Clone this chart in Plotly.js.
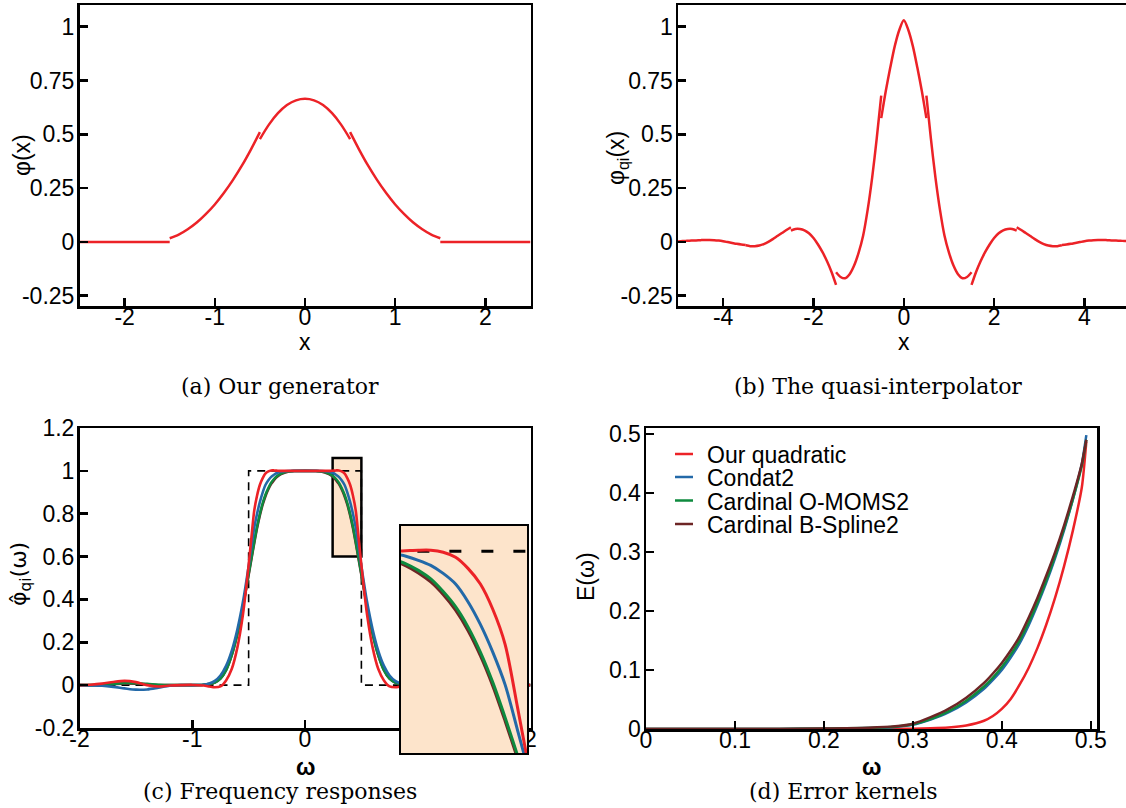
<!DOCTYPE html>
<html><head><meta charset="utf-8">
<script src="https://cdn.plot.ly/plotly-3.0.1.min.js"></script>
<style>html,body{margin:0;padding:0;background:#fff}#chart{width:1126px;height:808px}</style>
</head><body><div id="chart"></div>
<script>
// ================= DATA =================
// (a) generator phi(x) - piecewise segments
const genX1 = [-2.5, -1.5];
const genY1 = [0, 0];
const genX2 = [-1.5,-1.4,-1.3,-1.2,-1.1,-1.0,-0.9,-0.8,-0.7,-0.6,-0.5];
const genY2 = [0.017,0.034,0.059,0.090,0.129,0.174,0.227,0.287,0.354,0.429,0.510];
const genX3 = [-0.5,-0.4,-0.3,-0.2,-0.1,0,0.1,0.2,0.3,0.4,0.5];
const genY3 = [0.478,0.545,0.598,0.636,0.658,0.665,0.658,0.636,0.598,0.545,0.478];
const genX4 = [0.5,0.6,0.7,0.8,0.9,1.0,1.1,1.2,1.3,1.4,1.5];
const genY4 = [0.510,0.429,0.354,0.287,0.227,0.174,0.129,0.090,0.059,0.034,0.017];
const genX5 = [1.5, 2.5];
const genY5 = [0, 0];

// (b) quasi-interpolator phi_qi(x) - piecewise segments
const qiX1 = [-5,-4.9,-4.8,-4.7,-4.6,-4.5,-4.4,-4.3,-4.2,-4.1,-4.0,-3.9,-3.8,-3.7,-3.6,-3.5];
const qiY1 = [0.002,0.004,0.005,0.006,0.007,0.008,0.009,0.009,0.008,0.006,0.003,-0.001,-0.005,-0.009,-0.012,-0.014];
const qiX2 = [-3.5,-3.4,-3.3,-3.2,-3.1,-3.0,-2.9,-2.8,-2.7,-2.6,-2.5];
const qiY2 = [-0.016,-0.020,-0.020,-0.017,-0.010,0.000,0.013,0.027,0.041,0.055,0.068];
const qiX3 = [-2.5,-2.4,-2.3,-2.2,-2.1,-2.0,-1.9,-1.8,-1.7,-1.6,-1.5];
const qiY3 = [0.052,0.060,0.060,0.054,0.040,0.018,-0.012,-0.048,-0.090,-0.140,-0.200];
const qiX4 = [-1.5,-1.4,-1.3,-1.2,-1.1,-1.0,-0.9,-0.8,-0.7,-0.6,-0.5];
const qiY4 = [-0.141,-0.163,-0.169,-0.150,-0.110,-0.050,0.030,0.150,0.300,0.480,0.680];
const qiX5 = [-0.5,-0.4,-0.3,-0.2,-0.1,0,0.1,0.2,0.3,0.4,0.5];
const qiY5 = [0.575,0.700,0.810,0.910,0.985,1.030,0.985,0.910,0.810,0.700,0.575];
const qiX6 = [0.5,0.6,0.7,0.8,0.9,1.0,1.1,1.2,1.3,1.4,1.5];
const qiY6 = [0.680,0.480,0.300,0.150,0.030,-0.050,-0.110,-0.150,-0.169,-0.163,-0.141];
const qiX7 = [1.5,1.6,1.7,1.8,1.9,2.0,2.1,2.2,2.3,2.4,2.5];
const qiY7 = [-0.200,-0.140,-0.090,-0.048,-0.012,0.018,0.040,0.054,0.060,0.060,0.052];
const qiX8 = [2.5,2.6,2.7,2.8,2.9,3.0,3.1,3.2,3.3,3.4,3.5];
const qiY8 = [0.068,0.055,0.041,0.027,0.013,0.000,-0.010,-0.017,-0.020,-0.020,-0.016];
const qiX9 = [3.5,3.6,3.7,3.8,3.9,4.0,4.1,4.2,4.3,4.4,4.5,4.6,4.7,4.8,4.9,5.0];
const qiY9 = [-0.014,-0.012,-0.009,-0.005,-0.001,0.003,0.006,0.008,0.009,0.009,0.008,0.007,0.006,0.005,0.004,0.002];

// (c) frequency responses
const omegaC = [-2.0,-1.9,-1.8,-1.7,-1.6,-1.5,-1.4,-1.3,-1.2,-1.1,-1.0,-0.9,-0.85,-0.8,-0.75,-0.7,-0.65,-0.6,-0.55,-0.525,-0.5,-0.475,-0.45,-0.425,-0.4,-0.375,-0.35,-0.325,-0.3,-0.275,-0.25,-0.225,-0.2,-0.15,-0.1,
  0,
  0.1,0.15,0.2,0.225,0.25,0.275,0.3,0.325,0.35,0.375,0.4,0.425,0.45,0.475,0.5,0.525,0.55,0.6,0.65,0.7,0.75,0.8,0.85,0.9,1.0,1.1,1.2,1.3,1.4,1.5,1.6,1.7,1.8,1.9,2.0];
const freqOurs = [0.0,0.002,0.007,0.015,0.02,0.014,0.0,-0.006,-0.002,0.0,0.001,-0.002,-0.006,-0.01,-0.006,0.022,0.075,0.175,0.33,0.44,0.56,0.69,0.815,0.885,0.935,0.966,0.988,0.998,1.002,1.002,1.001,1.0,1.0,1.0,1.0,
  1.0,
  1.0,1.0,1.0,1.0,1.001,1.002,1.002,0.998,0.988,0.966,0.935,0.885,0.815,0.69,0.56,0.44,0.33,0.175,0.075,0.022,-0.006,-0.01,-0.006,-0.002,0.001,0.0,-0.002,-0.006,0.0,0.014,0.02,0.015,0.007,0.002,0.0];
const freqCondat = [0.0,-0.001,-0.003,-0.008,-0.015,-0.021,-0.02,-0.012,-0.003,0.0,0.0,0.002,0.008,0.02,0.045,0.09,0.16,0.26,0.39,0.47,0.555,0.645,0.735,0.8,0.855,0.9,0.935,0.956,0.972,0.982,0.99,0.995,0.997,0.999,1.0,
  1.0,
  1.0,0.999,0.997,0.995,0.99,0.982,0.972,0.956,0.935,0.9,0.855,0.8,0.735,0.645,0.555,0.47,0.39,0.26,0.16,0.09,0.045,0.02,0.008,0.002,0.0,0.0,-0.003,-0.012,-0.02,-0.021,-0.015,-0.008,-0.003,-0.001,0.0];
const freqOmoms = [0.0,0.0,0.002,0.006,0.01,0.009,0.006,0.002,0.0,0.0,0.0,0.002,0.005,0.012,0.03,0.07,0.14,0.24,0.37,0.445,0.52,0.595,0.67,0.74,0.8,0.85,0.89,0.92,0.945,0.962,0.975,0.984,0.99,0.997,0.999,
  1.0,
  0.999,0.997,0.99,0.984,0.975,0.962,0.945,0.92,0.89,0.85,0.8,0.74,0.67,0.595,0.52,0.445,0.37,0.24,0.14,0.07,0.03,0.012,0.005,0.002,0.0,0.0,0.0,0.002,0.006,0.009,0.01,0.006,0.002,0.0,0.0];
const freqBspline = [0.0,0.0,0.002,0.005,0.008,0.007,0.004,0.001,0.0,0.0,0.0,0.002,0.005,0.012,0.03,0.07,0.139,0.238,0.366,0.44,0.514,0.589,0.663,0.733,0.793,0.843,0.883,0.914,0.939,0.957,0.971,0.981,0.988,0.996,0.999,
  1.0,
  0.999,0.996,0.988,0.981,0.971,0.957,0.939,0.914,0.883,0.843,0.793,0.733,0.663,0.589,0.514,0.44,0.366,0.238,0.139,0.07,0.03,0.012,0.005,0.002,0.0,0.0,0.0,0.001,0.004,0.007,0.008,0.005,0.002,0.0,0.0];
const idealX = [-2, -0.5, -0.5, 0.5, 0.5, 2];
const idealY = [0, 0, 1, 1, 0, 0];

// (d) error kernels
const omegaD = [0,0.05,0.1,0.15,0.2,0.25,0.28,0.3,0.32,0.34,0.36,0.38,0.39,0.4,0.41,0.42,0.43,0.44,0.45,0.46,0.47,0.48,0.49,0.495];
const errOurs    = [0,0,0,0,0,0.0001,0.0003,0.0006,0.0012,0.0025,0.006,0.014,0.022,0.034,0.051,0.075,0.103,0.137,0.177,0.223,0.276,0.337,0.41,0.487];
const errCondat  = [0,0,0,0.0001,0.0005,0.0015,0.0035,0.007,0.016,0.028,0.045,0.068,0.083,0.1,0.121,0.145,0.175,0.21,0.248,0.29,0.337,0.39,0.45,0.498];
const errOmoms   = [0,0,0,0.0001,0.0006,0.0018,0.004,0.008,0.017,0.03,0.048,0.072,0.087,0.105,0.126,0.15,0.18,0.214,0.252,0.294,0.34,0.39,0.447,0.49];
const errBspline = [0,0,0,0.0001,0.0007,0.002,0.0045,0.009,0.02,0.034,0.053,0.078,0.094,0.112,0.133,0.157,0.188,0.222,0.26,0.30,0.345,0.395,0.45,0.49];

const seriesNames = ['Our quadratic', 'Condat2', 'Cardinal O-MOMS2', 'Cardinal B-Spline2'];

// ================= STYLE =================
const RED = '#ec2227', BLUE = '#2369a8', GREEN = '#0e8a3e', BROWN = '#6d2525', PEACH = '#fde4cb';
const seriesColors = [RED, BLUE, GREEN, BROWN];
const SANS = 'Liberation Sans, Arial, Helvetica, sans-serif';
const SERIF = 'DejaVu Serif, Liberation Serif, serif';
const W = 1126, H = 808;
const px = v => v / W, py = v => 1 - v / H;

const boxX = [0.245, 0.5], boxY = [0.6, 1.06];        // small highlight box in (c)
const insetX = [0.24, 0.494], insetY = [0.6, 1.05];   // magnified view range

function joinSegs(xs, ys) {
  const x = [], y = [];
  xs.forEach((sx, i) => {
    if (i > 0) { x.push(null); y.push(null); }
    x.push(...sx); y.push(...ys[i]);
  });
  return {x, y};
}

const gen = joinSegs([genX1, genX2, genX3, genX4, genX5], [genY1, genY2, genY3, genY4, genY5]);
const qi = joinSegs([qiX1, qiX2, qiX3, qiX4, qiX5, qiX6, qiX7, qiX8, qiX9],
                    [qiY1, qiY2, qiY3, qiY4, qiY5, qiY6, qiY7, qiY8, qiY9]);

const traces = [];
traces.push({x: gen.x, y: gen.y, xaxis: 'x', yaxis: 'y', mode: 'lines', connectgaps: false,
  line: {color: RED, width: 2.5, shape: 'spline', smoothing: 0.8}, hoverinfo: 'skip'});
traces.push({x: qi.x, y: qi.y, xaxis: 'x2', yaxis: 'y2', mode: 'lines', connectgaps: false,
  line: {color: RED, width: 2.5, shape: 'spline', smoothing: 0.8}, hoverinfo: 'skip'});

// (c) main
const freqSeries = [freqOurs, freqCondat, freqOmoms, freqBspline];
traces.push({x: idealX, y: idealY, xaxis: 'x3', yaxis: 'y3', mode: 'lines',
  line: {color: '#000', width: 1.6, dash: '8px,6px'}, hoverinfo: 'skip'});
[3, 2, 1, 0].forEach(i => traces.push({x: omegaC, y: freqSeries[i], xaxis: 'x3', yaxis: 'y3', mode: 'lines',
  name: seriesNames[i], line: {color: seriesColors[i], width: 2.6, shape: 'spline', smoothing: 0.8}, hoverinfo: 'skip'}));
// (c) inset
traces.push({x: idealX, y: idealY, xaxis: 'x5', yaxis: 'y5', mode: 'lines',
  line: {color: '#000', width: 3, dash: '12px,20px'}, hoverinfo: 'skip'});
[3, 2, 1, 0].forEach(i => traces.push({x: omegaC, y: freqSeries[i], xaxis: 'x5', yaxis: 'y5', mode: 'lines',
  name: seriesNames[i], line: {color: seriesColors[i], width: 3, shape: 'spline', smoothing: 0.8}, hoverinfo: 'skip'}));

// (d)
const errSeries = [errOurs, errCondat, errOmoms, errBspline];
[0, 1, 2, 3].forEach(i => traces.push({x: omegaD, y: errSeries[i], xaxis: 'x4', yaxis: 'y4', mode: 'lines',
  name: seriesNames[i], line: {color: seriesColors[i], width: 2.5, shape: 'spline', smoothing: 0.6}, hoverinfo: 'skip'}));

const baseAxis = {showline: true, linecolor: '#000', linewidth: 2.5, mirror: true, ticks: 'inside', ticklen: 8,
  tickwidth: 2.5, tickcolor: '#000', showgrid: false, zeroline: false,
  tickfont: {family: SANS, size: 23, color: '#000'}, fixedrange: true};
const xAxisBase = Object.assign({}, baseAxis, {ticklabelstandoff: -11});
const yAxisBase = Object.assign({}, baseAxis, {ticklabelstandoff: -2});
const labels = arr => arr.map(v => String(v));

const layout = {
  width: W, height: H, margin: {l: 0, r: 0, t: 0, b: 0},
  paper_bgcolor: '#fff', plot_bgcolor: 'rgba(0,0,0,0)', showlegend: false,
  font: {family: SANS, size: 23, color: '#000'},
  xaxis: Object.assign({}, xAxisBase, {domain: [px(79.5), px(530.5)], range: [-2.5, 2.5], anchor: 'y',
    tickvals: [-2, -1, 0, 1, 2], ticktext: labels([-2, -1, 0, 1, 2])}),
  yaxis: Object.assign({}, yAxisBase, {domain: [py(306), py(5)], range: [-0.298, 1.101], anchor: 'x',
    tickvals: [-0.25, 0, 0.25, 0.5, 0.75, 1], ticktext: labels([-0.25, 0, 0.25, 0.5, 0.75, 1])}),
  xaxis2: Object.assign({}, xAxisBase, {domain: [px(678), 1], range: [-5, 4.92], anchor: 'y2',
    tickvals: [-4, -2, 0, 2, 4], ticktext: labels([-4, -2, 0, 2, 4])}),
  yaxis2: Object.assign({}, yAxisBase, {domain: [py(306), py(5)], range: [-0.298, 1.101], anchor: 'x2', mirror: false,
    tickvals: [-0.25, 0, 0.25, 0.5, 0.75, 1], ticktext: labels([-0.25, 0, 0.25, 0.5, 0.75, 1])}),
  xaxis3: Object.assign({}, xAxisBase, {domain: [px(79.5), px(530.5)], range: [-2, 2], anchor: 'y3',
    tickvals: [-2, -1, 0, 1, 2], ticktext: labels([-2, -1, 0, 1, 2])}),
  yaxis3: Object.assign({}, yAxisBase, {domain: [py(728), py(428)], range: [-0.2, 1.2], anchor: 'x3',
    tickvals: [-0.2, 0, 0.2, 0.4, 0.6, 0.8, 1, 1.2], ticktext: labels([-0.2, 0, 0.2, 0.4, 0.6, 0.8, 1, 1.2])}),
  xaxis4: Object.assign({}, xAxisBase, {domain: [px(646), px(1097)], range: [0, 0.507], anchor: 'y4',
    tickvals: [0, 0.1, 0.2, 0.3, 0.4, 0.5], ticktext: labels([0, 0.1, 0.2, 0.3, 0.4, 0.5])}),
  yaxis4: Object.assign({}, yAxisBase, {domain: [py(729), py(428)], range: [0, 0.51], anchor: 'x4',
    tickvals: [0, 0.1, 0.2, 0.3, 0.4, 0.5], ticktext: labels([0, 0.1, 0.2, 0.3, 0.4, 0.5])}),
  xaxis5: {domain: [px(401), px(527)], range: insetX, anchor: 'y5', showline: true, mirror: true, linecolor: '#000',
    linewidth: 2, ticks: '', showticklabels: false, showgrid: false, zeroline: false, fixedrange: true},
  yaxis5: {domain: [py(753), py(526)], range: insetY, anchor: 'x5', showline: true, mirror: true, linecolor: '#000',
    linewidth: 2, ticks: '', showticklabels: false, showgrid: false, zeroline: false, fixedrange: true},
  shapes: [
    {type: 'rect', xref: 'x3', yref: 'y3', x0: boxX[0], x1: boxX[1], y0: boxY[0], y1: boxY[1],
      fillcolor: PEACH, line: {color: '#000', width: 2.5}, layer: 'below'},
    {type: 'rect', xref: 'x5', yref: 'y5', x0: insetX[0], x1: insetX[1], y0: insetY[0], y1: insetY[1],
      fillcolor: PEACH, line: {width: 0}, layer: 'below'}
  ],
  annotations: []
};

// legend for (d)
const legendRows = [454, 477, 500.5, 524];
seriesNames.forEach((name, i) => {
  layout.shapes.push({type: 'line', xref: 'paper', yref: 'paper', x0: px(675), x1: px(693),
    y0: py(legendRows[i]), y1: py(legendRows[i]), line: {color: seriesColors[i], width: 2.5}});
  layout.annotations.push({text: name, xref: 'paper', yref: 'paper', x: px(705), y: py(legendRows[i] + 1),
    xanchor: 'left', yanchor: 'middle', showarrow: false, font: {family: SANS, size: 23, color: '#000'}});
});

function ann(text, x, y, opts) {
  layout.annotations.push(Object.assign({text, xref: 'paper', yref: 'paper', x: px(x), y: py(y),
    xanchor: 'center', yanchor: 'middle', showarrow: false, font: {family: SANS, size: 23, color: '#000'}}, opts || {}));
}
// axis titles
ann('x', 305, 342);
ann('φ(x)', 22, 155, {textangle: -90});
ann('x', 904, 342);
ann('φ<sub>qi</sub>(x)', 618, 158, {textangle: -90});
ann('<b>ω</b>', 305, 767);
ann('φ\u0302<sub>qi</sub>(ω)', 20, 574, {textangle: -90, font: {family: 'DejaVu Sans, ' + SANS, size: 22, color: '#000'}});
ann('<b>ω</b>', 871, 767);
ann('E(ω)', 586, 577, {textangle: -90});
// captions
const capFont = {family: SERIF, size: 22, color: '#000'};
ann('(a) Our generator', 279.5, 386, {font: capFont});
ann('(b) The quasi-interpolator', 878, 386, {font: capFont});
ann('(c) Frequency responses', 279.5, 791, {font: capFont});
ann('(d) Error kernels', 843, 791, {font: capFont});

Plotly.newPlot('chart', traces, layout, {staticPlot: true, displayModeBar: false});
</script>
</body></html>
